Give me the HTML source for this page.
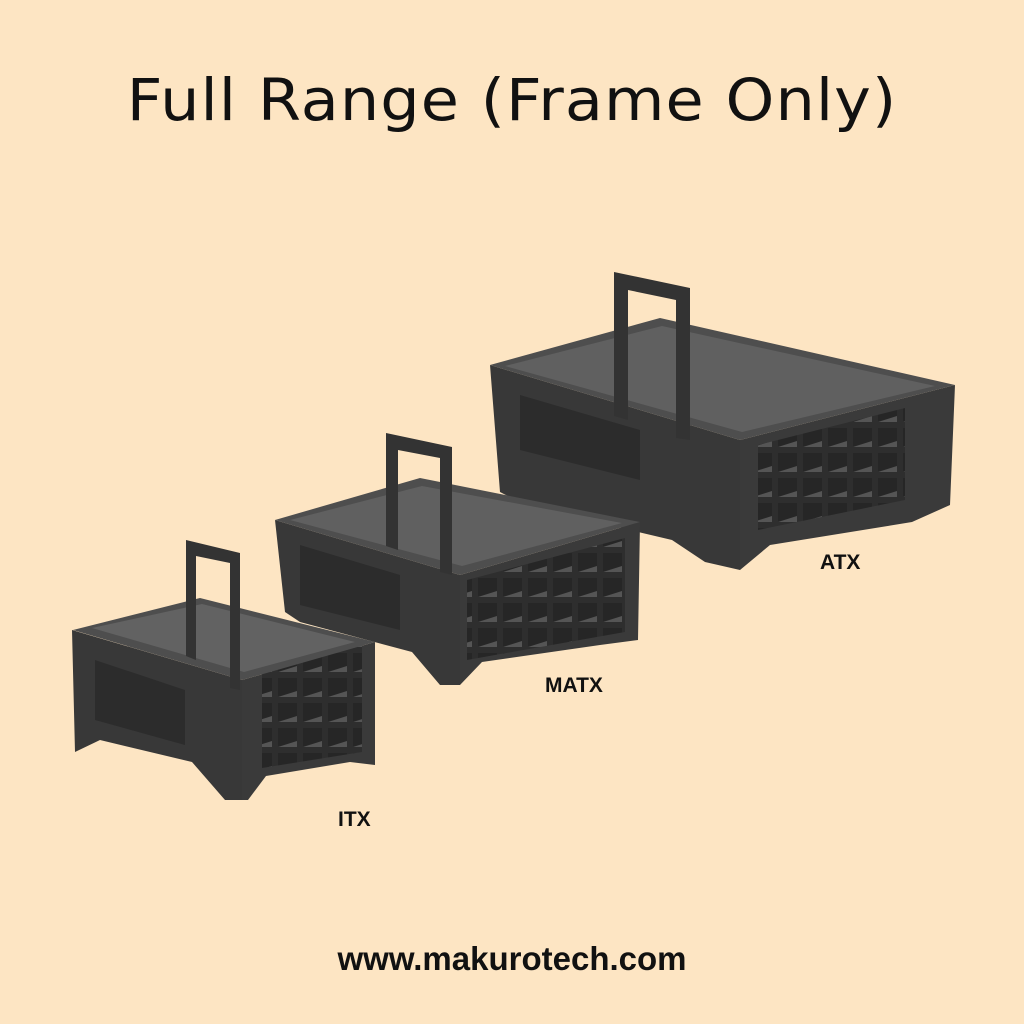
<!DOCTYPE html>
<html><head><meta charset="utf-8"><style>
html,body{margin:0;padding:0;background:#fde5c3;}
body{width:1024px;height:1024px;position:relative;overflow:hidden;font-family:"Liberation Sans",sans-serif;}
.t{position:absolute;left:0;width:1024px;text-align:center;top:66px;font-size:58px;color:#111;letter-spacing:1px;font-family:"DejaVu Sans","Liberation Sans",sans-serif;font-weight:normal;transform:scaleX(1.07);}
.l{position:absolute;font-weight:bold;font-size:21px;color:#111;}
</style></head><body>
<div class="t">Full Range (Frame Only)</div>
<svg width="1024" height="1024" style="position:absolute;left:0;top:0">
<defs>
<pattern id="g" width="25" height="25" patternUnits="userSpaceOnUse"><rect width="25" height="25" fill="#2e2e2e"/><rect x="3" y="3" width="19" height="19" fill="#262626"/><polygon points="3,22 22,16 22,22" fill="#555"/></pattern>
</defs>
<!-- ATX -->
<g>
<polygon points="490,365 740,440 740,570 705,562 672,540 525,505 500,492" fill="#383838"/>
<polygon points="520,395 640,430 640,480 520,450" fill="#2c2c2c"/>
<polygon points="740,440 955,385 950,505 912,522 770,545 740,570" fill="#3a3a3a"/>
<polygon points="758,445 905,408 905,500 758,530" fill="url(#g)"/>
<polygon points="490,365 660,318 955,385 740,440" fill="#4e4e4e"/>
<polygon points="505,366 662,326 935,386 742,432" fill="#606060"/>
<path d="M614,272 L690,288 L690,440 L676,438 L676,300 L628,290 L628,420 L614,416Z" fill="#333"/>
</g>
<!-- MATX -->
<g>
<polygon points="275,520 460,575 460,685 440,685 412,652 300,622 285,612" fill="#383838"/>
<polygon points="300,545 400,575 400,630 300,605" fill="#2c2c2c"/>
<polygon points="460,575 640,522 638,640 600,645 482,662 460,685" fill="#3a3a3a"/>
<polygon points="467,580 625,538 625,632 467,660" fill="url(#g)"/>
<polygon points="275,520 420,478 640,522 460,575" fill="#4e4e4e"/>
<polygon points="290,520 422,486 622,523 462,566" fill="#606060"/>
<path d="M386,433 L452,447 L452,575 L440,572 L440,458 L398,450 L398,550 L386,546Z" fill="#333"/>
</g>
<!-- ITX -->
<g>
<polygon points="72,630 242,680 242,800 225,800 192,762 100,740 75,752" fill="#383838"/>
<polygon points="95,660 185,690 185,745 95,720" fill="#2c2c2c"/>
<polygon points="242,680 375,642 375,765 350,762 266,776 248,800 242,800" fill="#3a3a3a"/>
<polygon points="262,670 362,645 362,752 262,768" fill="url(#g)"/>
<polygon points="73,630 200,598 375,642 242,680" fill="#4e4e4e"/>
<polygon points="92,628 202,604 355,642 244,672" fill="#626262"/>
<path d="M186,540 L240,553 L240,690 L230,688 L230,563 L196,556 L196,660 L186,656Z" fill="#333"/>
</g>
</svg>
<div class="l" style="left:338px;top:808px">ITX</div>
<div class="l" style="left:545px;top:674px">MATX</div>
<div class="l" style="left:820px;top:551px">ATX</div>
<div class="l" style="left:0;width:1024px;text-align:center;top:940px;font-size:33px">www.makurotech.com</div>
</body></html>
